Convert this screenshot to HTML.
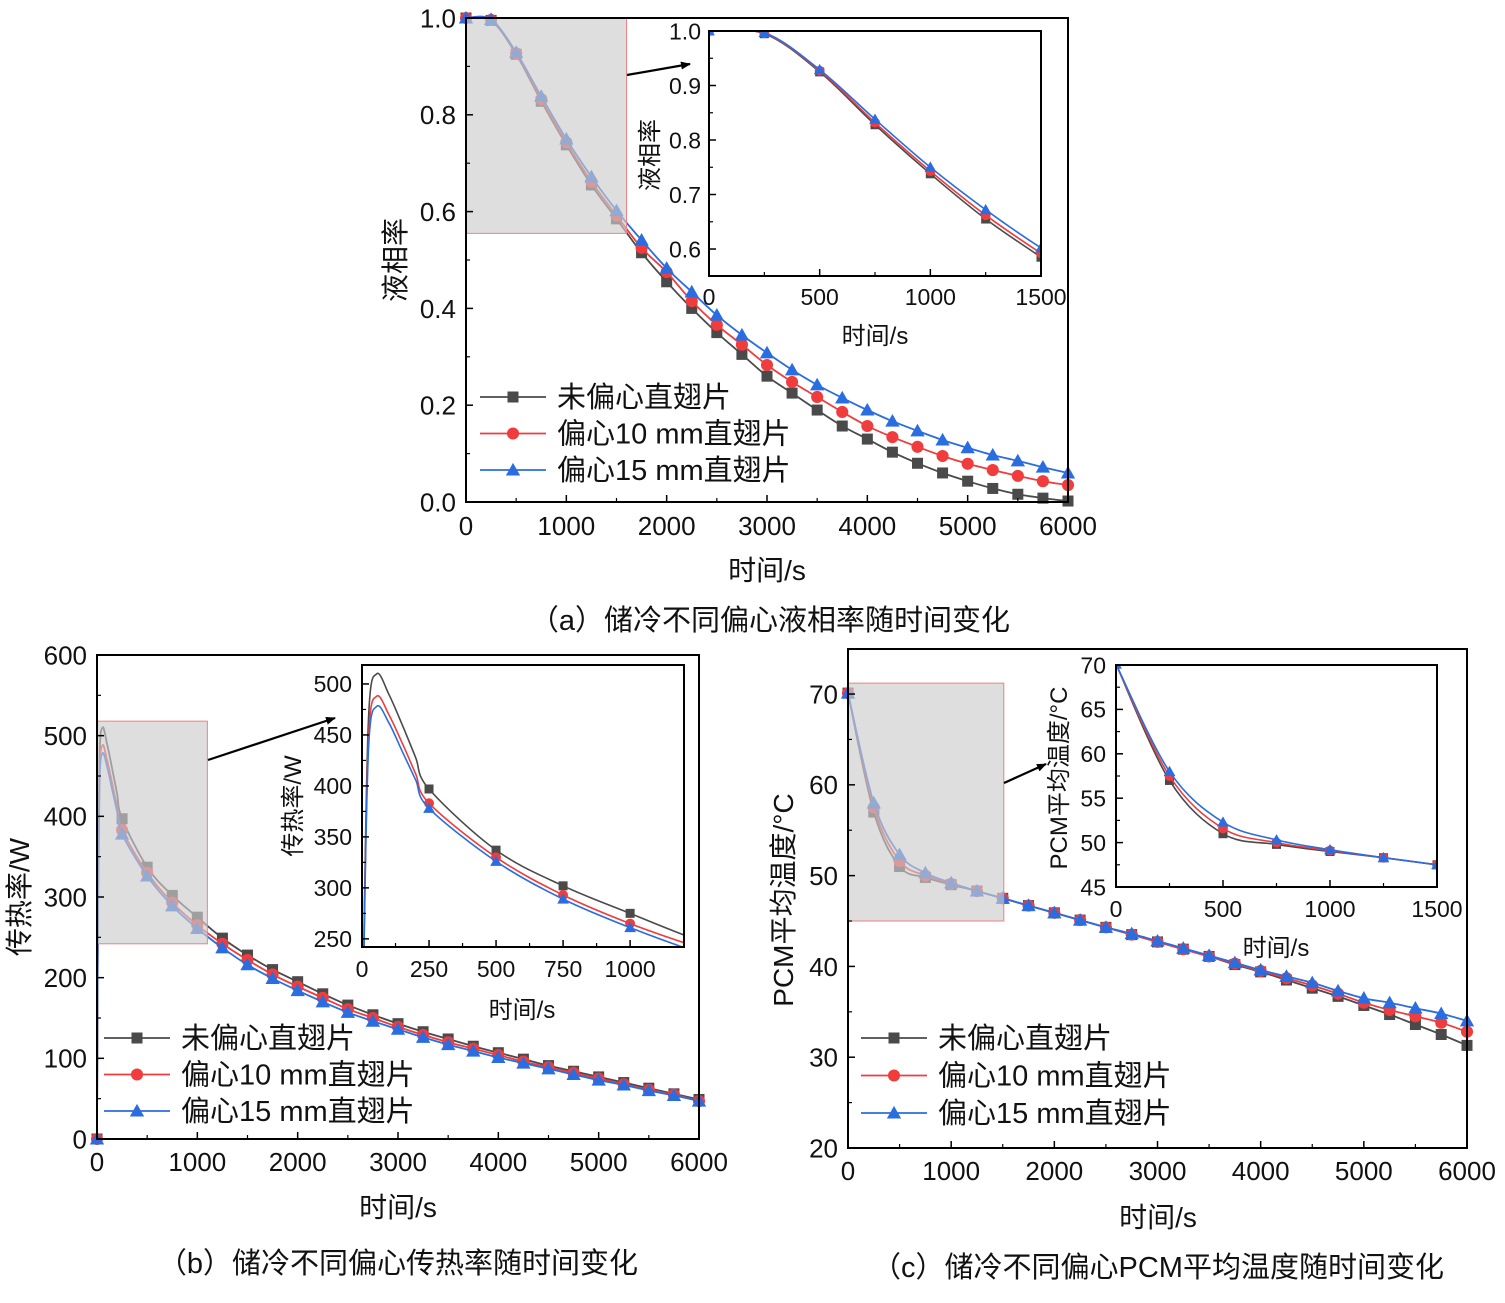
<!DOCTYPE html>
<html><head><meta charset="utf-8">
<style>
html,body{margin:0;padding:0;background:#fff;}
svg{display:block;font-family:"Liberation Sans","Noto Sans CJK SC",sans-serif;}
</style></head>
<body>
<svg id="fig" width="1505" height="1303" viewBox="0 0 1505 1303"></svg>
<script>
// ---- data (a): liquid fraction ----
const aTime = [0,250,500,750,1000,1250,1500,1750,2000,2250,2500,2750,3000,3250,3500,3750,4000,4250,4500,4750,5000,5250,5500,5750,6000];
const aBlack = [1.0,0.995,0.925,0.828,0.738,0.655,0.585,0.515,0.455,0.40,0.35,0.305,0.26,0.225,0.19,0.157,0.13,0.103,0.08,0.06,0.043,0.028,0.016,0.008,0.002];
const aRed   = [1.0,0.996,0.927,0.832,0.743,0.662,0.592,0.525,0.475,0.415,0.366,0.325,0.283,0.248,0.217,0.186,0.157,0.134,0.114,0.095,0.079,0.066,0.054,0.043,0.035];
const aBlue  = [1.0,0.997,0.929,0.838,0.75,0.672,0.602,0.541,0.483,0.434,0.386,0.345,0.308,0.273,0.242,0.215,0.19,0.167,0.147,0.128,0.112,0.097,0.085,0.072,0.06];
// ---- data (b): heat transfer rate ----
const bTime = [0,8,25,55,100,150,200,250,500,750,1000,1250,1500,1750,2000,2250,2500,2750,3000,3250,3500,3750,4000,4250,4500,4750,5000,5250,5500,5750,6000];
const bBlack = [0,260,470,510,490,460,428,397,337,302,275,249,228,210,195,180,166,154,143,133,124,115,107,99,91,84,77,70,63,56,49];
const bRed   = [0,250,450,488,470,442,412,383,330,293,265,242,222,204,189,175,161,150,139,129,120,112,104,96,89,82,75,68,61,55,47];
const bBlue  = [0,245,440,478,462,434,406,378,326,289,261,237,216,199,184,170,157,146,136,126,117,109,101,94,87,80,73,67,60,54,47];
// ---- data (c): PCM mean temperature ----
const cTime = aTime;
const cBlack = [70.1,57.0,51.0,49.8,49.0,48.3,47.5,46.7,45.9,45.1,44.3,43.5,42.7,41.9,41.1,40.2,39.4,38.5,37.6,36.7,35.7,34.7,33.6,32.5,31.3];
const cRed   = [70.1,57.5,51.6,50.0,49.1,48.3,47.5,46.7,45.9,45.1,44.3,43.5,42.7,41.9,41.1,40.3,39.5,38.7,37.9,37.0,36.0,35.2,34.5,33.8,32.8];
const cBlue  = [70.1,58.0,52.3,50.3,49.2,48.3,47.5,46.7,45.9,45.1,44.3,43.6,42.8,42.0,41.2,40.4,39.6,38.9,38.2,37.3,36.5,36.0,35.4,34.8,34.0];
// ---- tick labels ----
const aXTicks = [0,1000,2000,3000,4000,5000,6000];
const aYTicks = ["0.0","0.2","0.4","0.6","0.8","1.0"];
const aInXTicks = [0,500,1000,1500];
const aInYTicks = ["0.6","0.7","0.8","0.9","1.0"];
const bXTicks = [0,1000,2000,3000,4000,5000,6000];
const bYTicks = [0,100,200,300,400,500,600];
const bInXTicks = [0,250,500,750,1000];
const bInYTicks = [250,300,350,400,450,500];
const cXTicks = [0,1000,2000,3000,4000,5000,6000];
const cYTicks = [20,30,40,50,60,70];
const cInXTicks = [0,500,1000,1500];
const cInYTicks = [45,50,55,60,65,70];
const seriesNames = ["未偏心直翅片","偏心10 mm直翅片","偏心15 mm直翅片"];

const NS="http://www.w3.org/2000/svg";
const svg=document.getElementById('fig');
const COL=["#4a4a4a","#f03c3c","#2a6de0"];
function mk(tag,attrs,parent){const e=document.createElementNS(NS,tag);for(const k in attrs)e.setAttribute(k,attrs[k]);(parent||svg).appendChild(e);return e;}
function txt(s,x,y,size,anchor,parent,rot){const t=mk('text',{x:x,y:y,'font-size':size,'text-anchor':anchor||'middle',fill:'#111'},parent);if(rot)t.setAttribute('transform','rotate(-90 '+x+' '+y+')');t.textContent=s;return t;}
function marker(g,k,x,y,s,col){
  if(k===0){const m=mk('rect',{x:x-s,y:y-s,width:2*s,height:2*s,fill:col},g);}
  else if(k===1){const m=mk('circle',{cx:x,cy:y,r:s*1.1,fill:col},g);}
  else {const m=mk('polygon',{points:(x)+','+(y-s*1.3)+' '+(x-s*1.3)+','+(y+s)+' '+(x+s*1.3)+','+(y+s),fill:col},g);}
}
function smooth(p){
  let d='M'+p[0][0].toFixed(1)+','+p[0][1].toFixed(1);
  for(let i=0;i<p.length-1;i++){
    const p0=p[Math.max(0,i-1)],p1=p[i],p2=p[i+1],p3=p[Math.min(p.length-1,i+2)];
    const c1x=p1[0]+(p2[0]-p0[0])/6,c1y=p1[1]+(p2[1]-p0[1])/6;
    const c2x=p2[0]-(p3[0]-p1[0])/6,c2y=p2[1]-(p3[1]-p1[1])/6;
    d+=' C'+c1x.toFixed(1)+','+c1y.toFixed(1)+' '+c2x.toFixed(1)+','+c2y.toFixed(1)+' '+p2[0].toFixed(1)+','+p2[1].toFixed(1);
  }
  return d;
}
let clipId=0;
function chart(o){
  const g=mk('g',{});
  
  
  const sx=v=>o.x0+(v-o.xd[0])/(o.xd[1]-o.xd[0])*(o.x1-o.x0);
  const sy=v=>o.y0-(v-o.yd[0])/(o.yd[1]-o.yd[0])*(o.y0-o.y1);
  if(o.bg) mk('rect',{x:o.x0,y:o.y1,width:o.x1-o.x0,height:o.y0-o.y1,fill:'#fff'},g);
  const id='clip'+(clipId++);
  const cp=mk('clipPath',{id:id},g);
  const m=o.bg?1:8;
  mk('rect',{x:o.x0-m,y:o.y1-m,width:o.x1-o.x0+2*m,height:o.y0-o.y1+2*m},cp);
  const dg=mk('g',{'clip-path':'url(#'+id+')'},g);
  o.series.forEach((ys,k)=>{
    const pts=o.time.map((t,i)=>[sx(t),sy(ys[i])]);
    const l=mk('path',{d:smooth(pts),fill:'none',stroke:COL[k],'stroke-width':o.lw||1.8},dg);
    
    
    o.time.forEach((t,i)=>{ if(t%250===0 && t<=o.xd[1]+1) marker(dg,k,sx(t),sy(ys[i]),o.ms||5.5,COL[k]); });
  });
  if(o.shade){const r=mk('rect',{x:sx(o.shade[0]),y:sy(o.shade[3]),width:sx(o.shade[1])-sx(o.shade[0]),height:sy(o.shade[2])-sy(o.shade[3]),fill:'rgba(205,205,205,0.65)',stroke:'#f08080','stroke-width':1},g);
    }
  const f=mk('rect',{x:o.x0,y:o.y1,width:o.x1-o.x0,height:o.y0-o.y1,fill:'none',stroke:'#000','stroke-width':2},g);
  
  const xs=o.xt, ys=o.yt;
  xs.forEach((v,i)=>{const x=sx(+v);mk('line',{x1:x,x2:x,y1:o.y0,y2:o.y0-7,stroke:'#000','stroke-width':1.5},g);
    const t=txt(String(v),x,o.y0+o.xlOff,o.fs,'middle',g);
    if(i<xs.length-1){const xm=sx((+v + +xs[i+1])/2);mk('line',{x1:xm,x2:xm,y1:o.y0,y2:o.y0-4,stroke:'#000','stroke-width':1.2},g);}});
  ys.forEach((v,i)=>{const y=sy(+v);mk('line',{x1:o.x0,x2:o.x0+7,y1:y,y2:y,stroke:'#000','stroke-width':1.5},g);
    const t=txt(String(v),o.x0-o.ylOff,y+o.fs*0.36,o.fs,'end',g);
    if(i<ys.length-1){const ym=sy((+v + +ys[i+1])/2);mk('line',{x1:o.x0,x2:o.x0+4,y1:ym,y2:ym,stroke:'#000','stroke-width':1.2},g);}});
  const xt=txt('时间/s',o.xtitle[0],o.xtitle[1],o.tfs,'middle',g);
  const yt=txt(o.ylabel,o.ytitle[0],o.ytitle[1],o.tfs,'middle',g,true);
  if(o.legend){const [lx,ly,dy]=o.legend;
    seriesNames.forEach((n,k)=>{const lg=mk('g',{},g);
      const y=ly+k*dy;mk('line',{x1:lx,x2:lx+66,y1:y,y2:y,stroke:COL[k],'stroke-width':1.8},lg);marker(lg,k,lx+33,y,5.5,COL[k]);
      txt(n,lx+77,y+10,29,'start',lg);});}
  return g;
}
chart({name:'chart-a',x0:466,x1:1068,y0:502,y1:18,xd:[0,6000],yd:[0,1],time:aTime,series:[aBlack,aRed,aBlue],
  xt:aXTicks,yt:aYTicks,fs:26,xlOff:33,ylOff:10,tfs:28,xtitle:[767,580],ytitle:[405,260],ylabel:'液相率',
  shade:[0,1600,0.555,1.0],legend:[480,397,36.5]});
chart({name:'chart-a-inset',bg:true,x0:709,x1:1041,y0:276,y1:31,xd:[0,1500],yd:[0.5505,1.0],time:aTime,series:[aBlack,aRed,aBlue],
  xt:aInXTicks,yt:aInYTicks,fs:23,xlOff:29,ylOff:8,tfs:24,xtitle:[875,344],ytitle:[658,155],ylabel:'液相率',ms:4.5,lw:1.6});
chart({name:'chart-b',x0:97,x1:699,y0:1139,y1:655,xd:[0,6000],yd:[0,600],time:bTime,series:[bBlack,bRed,bBlue],
  xt:bXTicks,yt:bYTicks,fs:26,xlOff:32,ylOff:10,tfs:28,xtitle:[398,1217],ytitle:[29,897],ylabel:'传热率/W',
  shade:[0,1100,242,518],legend:[104,1038,36.5]});
chart({name:'chart-b-inset',bg:true,x0:362,x1:684,y0:947,y1:665,xd:[0,1201],yd:[242,518.6],time:bTime,series:[bBlack,bRed,bBlue],
  xt:bInXTicks,yt:bInYTicks,fs:23,xlOff:30,ylOff:10,tfs:24,xtitle:[522,1018],ytitle:[301,806],ylabel:'传热率/W',ms:4.5,lw:1.6});
chart({name:'chart-c',x0:848,x1:1467,y0:1148,y1:649,xd:[0,6000],yd:[20,74.96],time:cTime,series:[cBlack,cRed,cBlue],
  xt:cXTicks,yt:cYTicks,fs:26,xlOff:32,ylOff:10,tfs:28,xtitle:[1158,1227],ytitle:[793,900],ylabel:'PCM平均温度/°C',
  shade:[0,1510,45,71.2],legend:[861,1038,37.5]});
chart({name:'chart-c-inset',bg:true,x0:1116,x1:1437,y0:887,y1:665,xd:[0,1500],yd:[45,70],time:cTime,series:[cBlack,cRed,cBlue],
  xt:cInXTicks,yt:cInYTicks,fs:23,xlOff:30,ylOff:10,tfs:24,xtitle:[1276,956],ytitle:[1067,778],ylabel:'PCM平均温度/°C',ms:4.5,lw:1.6});
const defs=mk('defs',{});
const mkr=mk('marker',{id:'arr',markerWidth:10,markerHeight:8,refX:9,refY:4,orient:'auto',markerUnits:'userSpaceOnUse'},defs);
mk('path',{d:'M0,0 L10,4 L0,8 Z',fill:'#000'},mkr);
[[627,75,690,64],[208,760,335,718],[1004,783,1046,764]].forEach(a=>{const l=mk('line',{x1:a[0],y1:a[1],x2:a[2],y2:a[3],stroke:'#000','stroke-width':2.2,'marker-end':'url(#arr)'});
  });
[['（a）储冷不同偏心液相率随时间变化',770,630],['（b）储冷不同偏心传热率随时间变化',398,1273],['（c）储冷不同偏心PCM平均温度随时间变化',1158,1277]].forEach(c=>{
  const t=txt(c[0],c[1],c[2],29,'middle');});
</script>
</body></html>
